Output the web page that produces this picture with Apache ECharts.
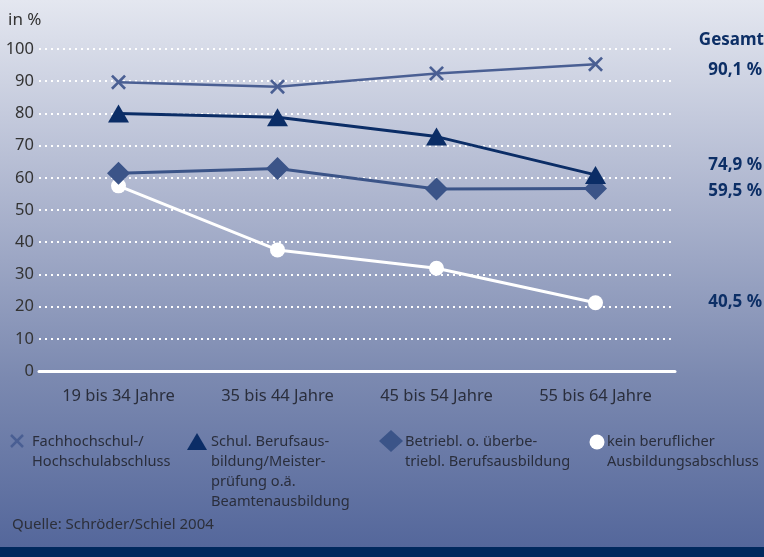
<!DOCTYPE html>
<html><head><meta charset="utf-8">
<script src="https://cdn.jsdelivr.net/npm/echarts@6/dist/echarts.min.js"></script>
<style>html,body{margin:0;padding:0;}#c{width:764px;height:557px;}</style>
</head><body><div id="c"></div>
<script>
var categories = ['19 bis 34 Jahre', '35 bis 44 Jahre', '45 bis 54 Jahre', '55 bis 64 Jahre'];
var fachhochschul = [89.7, 88.3, 92.4, 95.3];
var schulBerufs = [80.0, 78.8, 72.8, 60.9];
var betriebl = [61.4, 62.9, 56.5, 56.7];
var keinAbschluss = [57.5, 37.6, 31.9, 21.2];
var seriesNames = ['Fachhochschul-/\nHochschulabschluss', 'Schul. Berufsaus-\nbildung/Meister-\nprüfung o.ä.\nBeamtenausbildung', 'Betriebl. o. überbe-\ntriebl. Berufsausbildung', 'kein beruflicher\nAusbildungsabschluss'];
var totals = ['90,1 %', '74,9 %', '59,5 %', '40,5 %'];
var yTicks = [0, 10, 20, 30, 40, 50, 60, 70, 80, 90, 100];

var FONT = 'Noto Sans';
var X_PATH = 'path://M2,0 L8,6 L14,0 L16,2 L10,8 L16,14 L14,16 L8,10 L2,16 L0,14 L6,8 L0,2 Z';
var colors = ['#4a5f93', '#0b2d66', '#3b5488', '#ffffff'];
var symbols = [X_PATH, 'triangle', 'diamond', 'circle'];
var symbolSizes = [[15, 15], [21, 18], [23, 23], [15, 15]];
var dataSets = [fachhochschul, schulBerufs, betriebl, keinAbschluss];

var chart = echarts.init(document.getElementById('c'));

var series = dataSets.map(function (d, i) {
  return {
    type: 'line', name: seriesNames[i], data: d,
    symbol: symbols[i], symbolSize: symbolSizes[i],
    lineStyle: { color: colors[i], width: 3 },
    itemStyle: { color: colors[i] },
    z: 10 - i
  };
});
series[0].lineStyle.width = 2.5;

var legendX = [[17, 32], [197, 211], [391, 405], [597, 607]];
var graphics = [
  { type: 'text', style: { text: 'in %', x: 8, y: 20, verticalAlign: 'middle', font: '17px ' + FONT, fill: '#333' } },
  { type: 'text', style: { text: 'Quelle: Schröder/Schiel 2004', x: 12, y: 525, verticalAlign: 'middle', font: '15px ' + FONT, fill: '#2c2f3a' } },
  { type: 'rect', shape: { x: 0, y: 547, width: 764, height: 10 }, style: { fill: '#00295e' } },
  { type: 'text', style: { text: 'Gesamt', x: 764, y: 40, align: 'right', verticalAlign: 'middle', font: 'bold 17px ' + FONT, fill: '#0d2f66' } }
];
var totalY = [70, 165, 191, 302];
totals.forEach(function (t, i) {
  graphics.push({ type: 'text', style: { text: t, x: 762, y: totalY[i], align: 'right', verticalAlign: 'middle', font: 'bold 17px ' + FONT, fill: '#0d2f66' } });
});
seriesNames.forEach(function (n, i) {
  graphics.push({ type: 'text', style: { text: n, x: legendX[i][1], y: 432, font: '14.6px ' + FONT, fill: '#2a2e3c', lineHeight: 20 } });
});
// legend icons
graphics.push({ type: 'line', shape: { x1: 11, y1: 435, x2: 23, y2: 447 }, style: { stroke: colors[0], lineWidth: 2.5 } });
graphics.push({ type: 'line', shape: { x1: 23, y1: 435, x2: 11, y2: 447 }, style: { stroke: colors[0], lineWidth: 2.5 } });
graphics.push({ type: 'polygon', shape: { points: [[197, 433], [207, 450], [187, 450]] }, style: { fill: colors[1] } });
graphics.push({ type: 'polygon', shape: { points: [[391, 430], [403, 441], [391, 452], [379, 441]] }, style: { fill: colors[2] } });
graphics.push({ type: 'circle', shape: { cx: 597, cy: 442, r: 7.5 }, style: { fill: '#ffffff' } });

chart.setOption({
  backgroundColor: new echarts.graphic.LinearGradient(0, 0, 0, 1, [
    { offset: 0, color: '#e4e7f0' },
    { offset: 0.35, color: '#aeb6cf' },
    { offset: 0.68, color: '#7b89b0' },
    { offset: 1, color: '#52659a' }
  ]),
  animation: false,
  grid: { left: 39, right: 89, top: 49, bottom: 186 },
  xAxis: [{
    type: 'category', data: categories, boundaryGap: true,
    axisLine: { lineStyle: { color: '#ffffff', width: 3 } },
    axisTick: { alignWithLabel: true, length: 11, lineStyle: { color: '#ffffff', width: 3 } },
    axisLabel: { color: '#2a2e3c', fontFamily: FONT, fontSize: 16.5, margin: 17 }
  }, {
    type: 'category', data: categories, position: 'bottom', boundaryGap: true,
    axisLine: { show: false },
    axisTick: { inside: true, alignWithLabel: true, length: 6, lineStyle: { color: '#ffffff', width: 3 } },
    axisLabel: { show: false }
  }],
  yAxis: {
    type: 'value', min: yTicks[0], max: yTicks[yTicks.length - 1], interval: 10,
    axisLine: { show: false }, axisTick: { show: false },
    axisLabel: { color: '#333', fontFamily: FONT, fontSize: 16.5, margin: 5 },
    splitLine: { lineStyle: { color: '#ffffff', type: [2, 4], width: 2 } }
  },
  series: series,
  graphic: graphics
});
</script></body></html>
